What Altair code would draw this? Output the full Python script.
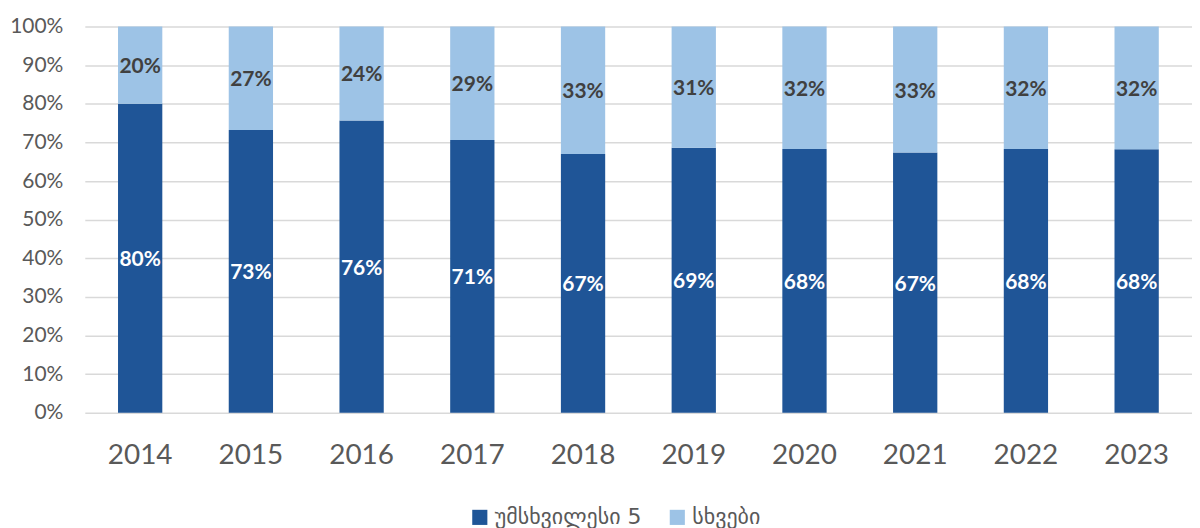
import altair as alt
import pandas as pd

years = ["2014", "2015", "2016", "2017", "2018", "2019", "2020", "2021", "2022", "2023"]
top5 = [0.800, 0.732, 0.757, 0.706, 0.670, 0.686, 0.683, 0.674, 0.683, 0.682]
others = [0.200, 0.268, 0.243, 0.294, 0.330, 0.314, 0.317, 0.326, 0.317, 0.318]
series = ["უმსხვილესი 5", "სხვები"]
colors = ["#1F5597", "#9DC3E6"]
tick_values = [0.0, 0.1, 0.2, 0.3, 0.4, 0.5, 0.6, 0.7, 0.8, 0.9, 1.0]

rows = []
for i, y in enumerate(years):
    rows.append({"year": y, "series": series[0], "ord": 0, "value": top5[i]})
    rows.append({"year": y, "series": series[1], "ord": 1, "value": others[i]})
df = pd.DataFrame(rows)

font = "Lato"

base = alt.Chart(df).transform_stack(
    stack="value", groupby=["year"], as_=["v0", "v1"],
    sort=[alt.SortField("ord", order="ascending")]
).transform_calculate(mid="(datum.v0 + datum.v1) / 2")

xaxis = alt.Axis(labelFontSize=28, labelColor="#595959", labelFont=font,
                 labelPadding=29, ticks=False, domain=False, labelAngle=0)
xenc = alt.X("year:N", title=None, sort=years,
             scale=alt.Scale(paddingInner=0.6, paddingOuter=0.3), axis=xaxis)

yaxis = alt.Axis(format=".0%", values=tick_values, tickCount=11,
                 labelOverlap=False,
                 labelFontSize=21, labelColor="#595959", labelFont=font,
                 labelPadding=22, ticks=False, domain=False,
                 gridColor="#D9D9D9", gridWidth=1.5)
yscale = alt.Scale(domain=[0, 1], nice=False)

bars = base.mark_bar().encode(
    x=xenc,
    y=alt.Y("v0:Q", title=None, scale=yscale, axis=yaxis),
    y2="v1:Q",
    color=alt.Color("series:N", sort=series,
                    scale=alt.Scale(domain=series, range=colors),
                    legend=alt.Legend(title=None, orient="none", direction="horizontal",
                                      legendX=385, legendY=481,
                                      labelFontSize=22, labelColor="#595959",
                                      symbolType="square", symbolSize=230,
                                      symbolStrokeWidth=0, columnPadding=24,
                                      labelLimit=300,
                                      labelFont="DejaVu Sans")),
)

labels = base.mark_text(fontSize=21, fontWeight="bold", font=font, dy=2).encode(
    x=xenc,
    y=alt.Y("mid:Q", title=None, scale=yscale, axis=yaxis),
    text=alt.Text("value:Q", format=".0%"),
    color=alt.condition("datum.ord == 0", alt.value("#FFFFFF"), alt.value("#404040")),
)

chart = alt.layer(bars, labels).properties(
    width=1110, height=387,
    padding={"left": 77, "top": 18, "right": 0, "bottom": 115},
    autosize=alt.AutoSizeParams(type="none"),
).configure_view(stroke=None)

chart.save("out.html", embed_options={"renderer": "svg", "actions": False})
